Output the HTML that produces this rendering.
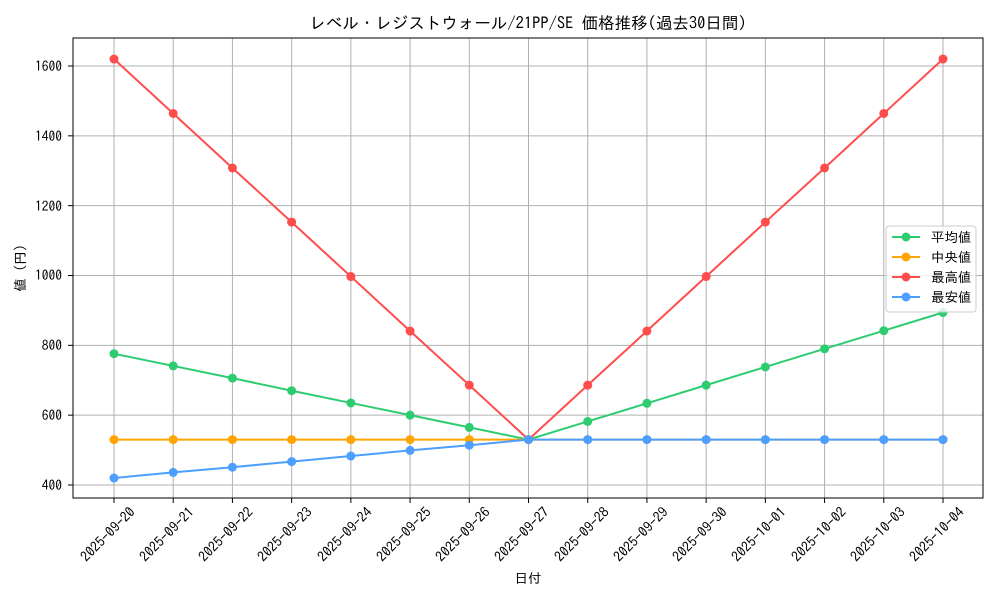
<!DOCTYPE html>
<html><head><meta charset="utf-8"><style>
body{margin:0;background:#fff}
svg text{font-family:"IPAGothic","Noto Sans CJK JP",monospace;fill:#000}
</style></head><body>
<svg id="s" width="1000" height="600" xmlns="http://www.w3.org/2000/svg">
<rect width="1000" height="600" fill="#fff"/>
<g id="grid" stroke="#b0b0b0" stroke-width="1"></g>
<g id="series"></g>
<rect x="73" y="38" width="910" height="460" fill="none" stroke="#000" stroke-width="1"/>
<text x="528" y="29" font-size="16.5" text-anchor="middle">レベル・レジストウォール/21PP/SE 価格推移(過去30日間)</text>
<g font-size="13.5" text-anchor="end">
<text x="62" y="490">400</text><text x="62" y="420">600</text><text x="62" y="350">800</text>
<text x="62" y="280">1000</text><text x="62" y="211">1200</text><text x="62" y="141">1400</text><text x="62" y="71">1600</text>
</g>
<g font-size="14" text-anchor="end">
<text transform="translate(136,513) rotate(-45)">2025-09-20</text>
<text transform="translate(195,513) rotate(-45)">2025-09-21</text>
<text transform="translate(254,513) rotate(-45)">2025-09-22</text>
<text transform="translate(313,513) rotate(-45)">2025-09-23</text>
<text transform="translate(373,513) rotate(-45)">2025-09-24</text>
<text transform="translate(432,513) rotate(-45)">2025-09-25</text>
<text transform="translate(491,513) rotate(-45)">2025-09-26</text>
<text transform="translate(550,513) rotate(-45)">2025-09-27</text>
<text transform="translate(610,513) rotate(-45)">2025-09-28</text>
<text transform="translate(669,513) rotate(-45)">2025-09-29</text>
<text transform="translate(728,513) rotate(-45)">2025-09-30</text>
<text transform="translate(787,513) rotate(-45)">2025-10-01</text>
<text transform="translate(847,513) rotate(-45)">2025-10-02</text>
<text transform="translate(906,513) rotate(-45)">2025-10-03</text>
<text transform="translate(965,513) rotate(-45)">2025-10-04</text>
</g>
<text x="528" y="583" font-size="13.5" text-anchor="middle">日付</text>
<text transform="translate(25,268) rotate(-90)" font-size="13.5" text-anchor="middle">値 (円)</text>
<g>
<rect x="886" y="226" width="90" height="86" rx="3" fill="#fff" fill-opacity="0.8" stroke="#ccc"/>
<line x1="892" y1="237" x2="920" y2="237" stroke="#2ecc71" stroke-width="2"/><circle cx="906" cy="237" r="4.5" fill="#2ecc71"/>
<line x1="892" y1="257" x2="920" y2="257" stroke="#ffa500" stroke-width="2"/><circle cx="906" cy="257" r="4.5" fill="#ffa500"/>
<line x1="892" y1="277" x2="920" y2="277" stroke="#ff4d4d" stroke-width="2"/><circle cx="906" cy="277" r="4.5" fill="#ff4d4d"/>
<line x1="892" y1="297" x2="920" y2="297" stroke="#4d9fff" stroke-width="2"/><circle cx="906" cy="297" r="4.5" fill="#4d9fff"/>
<g font-size="13.5"><text x="931" y="242">平均値</text><text x="931" y="262">中央値</text><text x="931" y="282">最高値</text><text x="931" y="302">最安値</text></g>
</g>
</svg>
<script>
var X=i=>114+i*59.214, Y=v=>485-(v-400)*0.34917, ns="http://www.w3.org/2000/svg";
var g=document.getElementById("grid"),s=document.getElementById("series");
function el(p,t,a){var e=document.createElementNS(ns,t);for(var k in a)e.setAttribute(k,a[k]);p.appendChild(e);return e;}
for(var i=0;i<15;i++){el(g,"line",{x1:X(i),x2:X(i),y1:38,y2:498});el(g,"line",{x1:X(i),x2:X(i),y1:498,y2:503,stroke:"#000"});}
for(var v=400;v<=1600;v+=200){el(g,"line",{x1:73,x2:983,y1:Y(v),y2:Y(v)});el(g,"line",{x1:68,x2:73,y1:Y(v),y2:Y(v),stroke:"#000"});}
var mx=[1620,1464,1308,1153,997,841,686,530,686,841,997,1153,1308,1464,1620];
var mean=[776,741,706,670,635,600,565,530,582,634,686,738,790,842,894];
var med=mx.map(()=>530);
var mn=[420,436,451,467,483,499,514,530,530,530,530,530,530,530,530];
[[mean,"#2ecc71"],[med,"#ffa500"],[mx,"#ff4d4d"],[mn,"#4d9fff"]].forEach(function(d){
el(s,"polyline",{points:d[0].map((v,i)=>X(i)+","+Y(v)).join(" "),fill:"none",stroke:d[1],"stroke-width":2});
d[0].forEach((v,i)=>el(s,"circle",{cx:X(i),cy:Y(v),r:4.5,fill:d[1]}));});
</script>
</body></html>
